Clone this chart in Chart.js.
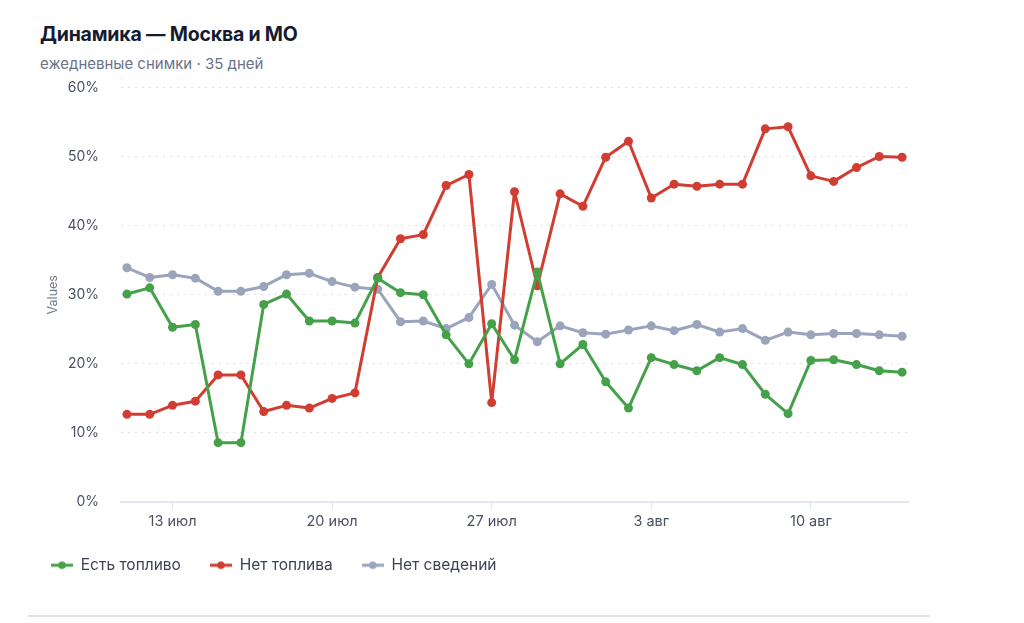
<!DOCTYPE html>
<html>
<head>
<meta charset="utf-8">
<script src="https://cdn.jsdelivr.net/npm/chart.js@4.4.1/dist/chart.umd.min.js"></script>
<style>
  html, body { margin: 0; padding: 0; background: #fff; }
  body { width: 1024px; height: 623px; position: relative; overflow: hidden; font-family: Inter, "Noto Sans", sans-serif; }
  #title { position: absolute; left: 40px; top: 22px; font-size: 19.5px; font-weight: 700; color: #161b2e; letter-spacing: -0.2px; }
  #subtitle { position: absolute; left: 40px; top: 54px; font-size: 15px; color: #6b7385; }
  #wrap { position: absolute; left: 40px; top: 57px; width: 878px; height: 532px; }
  #sep { position: absolute; left: 28px; top: 615px; width: 902px; height: 2px; background: #e2e2e4; }
</style>
</head>
<body>
<div id="title">Динамика — Москва и МО</div>
<div id="subtitle">ежедневные снимки · 35 дней</div>
<div id="wrap"><canvas id="c"></canvas></div>
<div id="sep"></div>
<script>
const dates = ['11 июл','12 июл','13 июл','14 июл','15 июл','16 июл','17 июл','18 июл','19 июл','20 июл',
  '21 июл','22 июл','23 июл','24 июл','25 июл','26 июл','27 июл','28 июл','29 июл','30 июл',
  '31 июл','1 авг','2 авг','3 авг','4 авг','5 авг','6 авг','7 авг','8 авг','9 авг',
  '10 авг','11 авг','12 авг','13 авг','14 авг'];
const tickLabels = ['13 июл','20 июл','27 июл','3 авг','10 авг'];
const yTicks = [0, 10, 20, 30, 40, 50, 60];
const seriesNames = ['Есть топливо', 'Нет топлива', 'Нет сведений'];
const hasFuel = [30.1, 31.0, 25.3, 25.7, 8.6, 8.6, 28.6, 30.1, 26.2, 26.2,
  25.9, 32.4, 30.3, 30.0, 24.2, 20.0, 25.8, 20.6, 33.3, 20.0,
  22.8, 17.4, 13.6, 20.9, 19.9, 19.0, 20.9, 19.9, 15.6, 12.8,
  20.5, 20.6, 19.9, 19.0, 18.8];
const noFuel = [12.7, 12.7, 14.0, 14.6, 18.4, 18.4, 13.1, 14.0, 13.6, 15.0,
  15.8, 32.5, 38.1, 38.7, 45.8, 47.4, 14.4, 44.9, 31.3, 44.6,
  42.8, 49.9, 52.2, 44.0, 46.0, 45.7, 46.0, 46.0, 54.0, 54.3,
  47.2, 46.4, 48.4, 50.0, 49.9];
const noInfo = [33.9, 32.5, 32.9, 32.4, 30.5, 30.5, 31.2, 32.9, 33.1, 31.9,
  31.1, 30.8, 26.1, 26.2, 25.1, 26.7, 31.5, 25.6, 23.2, 25.5,
  24.5, 24.3, 24.9, 25.5, 24.8, 25.7, 24.6, 25.1, 23.4, 24.6,
  24.2, 24.4, 24.4, 24.2, 24.0];
const colors = ['#45a04a', '#d13d31', '#9aa4bb'];
const FONT = 'Inter, "Noto Sans", sans-serif';

function legendIcon(color) {
  const cv = document.createElement('canvas');
  cv.width = 22; cv.height = 10;
  const g = cv.getContext('2d');
  g.strokeStyle = color; g.lineWidth = 3;
  g.beginPath(); g.moveTo(0, 5); g.lineTo(22, 5); g.stroke();
  g.fillStyle = color;
  g.beginPath(); g.arc(11, 5, 3.8, 0, Math.PI * 2); g.fill();
  return cv;
}
const icons = colors.map(legendIcon);

const mk = (i, vals) => ({
  label: seriesNames[i],
  data: vals.map((v, k) => ({ x: k, y: v })),
  borderColor: colors[i], backgroundColor: colors[i],
  borderWidth: 3, borderJoinStyle: 'round', borderCapStyle: 'round',
  pointRadius: 4.5, pointHoverRadius: 5,
  pointBackgroundColor: colors[i], pointBorderColor: colors[i], pointBorderWidth: 0,
  tension: 0, fill: false
});

const legendShift = {
  id: 'legendShift',
  afterLayout(chart) {
    const l = chart.legend;
    if (l) { l.left -= 18; l.right -= 18; l.top -= 6; l.bottom -= 6; }
  }
};

new Chart(document.getElementById('c'), {
  type: 'line',
  data: { datasets: [mk(0, hasFuel), mk(1, noFuel), mk(2, noInfo)] },
  plugins: [legendShift],
  options: {
    responsive: true, maintainAspectRatio: false, animation: false,
    layout: { padding: { left: 0, right: 10, top: 0, bottom: 0 } },
    plugins: {
      title: { display: false },
      tooltip: { enabled: false },
      legend: {
        position: 'bottom', align: 'start',
        labels: {
          usePointStyle: true, pointStyleWidth: 22, padding: 29,
          font: { family: FONT, size: 15.5 }, color: '#3c4356',
          generateLabels: (chart) => chart.data.datasets.map((d, i) => ({
            text: d.label, pointStyle: icons[i], fillStyle: colors[i], strokeStyle: colors[i],
            lineWidth: 0, hidden: false, datasetIndex: i, fontColor: '#3c4356'
          }))
        }
      }
    },
    scales: {
      x: {
        type: 'linear', min: -0.26, max: dates.length - 1 + 0.26,
        afterBuildTicks: (s) => { s.ticks = tickLabels.map(l => ({ value: dates.indexOf(l) })); },
        grid: { drawOnChartArea: false, drawTicks: true, tickLength: 7, color: '#e2e6ee' },
        border: { display: true, color: '#e2e6ee', width: 2 },
        ticks: {
          autoSkip: false, maxRotation: 0, padding: 4,
          font: { family: FONT, size: 14.5 }, color: '#4a5163',
          callback: (v) => dates[v]
        }
      },
      y: {
        min: yTicks[0], max: yTicks[yTicks.length - 1],
        afterBuildTicks: (s) => { s.ticks = yTicks.map(v => ({ value: v })); },
        afterFit: (s) => { s.width = 81; },
        grid: { color: '#dcdfe5', lineWidth: 1, drawTicks: false },
        border: { display: false, dash: [2, 5] },
        ticks: { padding: 22, font: { family: FONT, size: 14 }, color: '#4a5163', callback: (v) => v + '%' },
        title: { display: true, text: 'Values', color: '#6e7891', font: { family: FONT, size: 12.5 }, padding: { top: 6, bottom: 4 } }
      }
    }
  }
});
</script>
</body>
</html>
